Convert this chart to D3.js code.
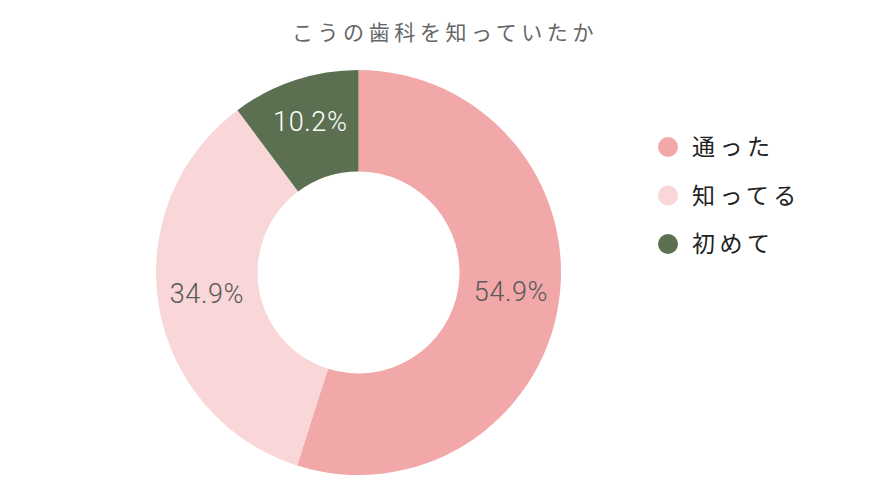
<!DOCTYPE html>
<html>
<head>
<meta charset="utf-8">
<script src="https://cdn.jsdelivr.net/npm/d3@7"></script>
<style>
  body { margin: 0; background: #fff; }
</style>
</head>
<body>
<div id="chart"></div>
<script>
var title = "こうの歯科を知っていたか";
var categories = ["通った", "知ってる", "初めて"];
var values = [54.9, 34.9, 10.2];
var colors = ["#f2a8a9", "#f9d6d8", "#5b7051"];
var labelColors = ["#595959", "#595959", "#ffffff"];

var w = 894, h = 502;
var cx = 358.5, cy = 272.5, outerR = 202.5, innerR = 101;

var svg = d3.select("#chart").append("svg")
  .attr("width", w)
  .attr("height", h);

// title
svg.append("text")
  .attr("x", 445)
  .attr("y", 40)
  .attr("text-anchor", "middle")
  .attr("font-family", "'Noto Sans CJK JP', sans-serif")
  .attr("font-size", "21px")
  .attr("letter-spacing", "4.6px")
  .attr("fill", "#666")
  .text(title);

var data = categories.map(function(c, i) { return {name: c, value: values[i]}; });

var pie = d3.pie().sort(null).value(function(d) { return d.value; });
var arc = d3.arc().innerRadius(innerR).outerRadius(outerR);
var labelArc = d3.arc().innerRadius(154).outerRadius(154);

var g = svg.append("g").attr("transform", "translate(" + cx + "," + cy + ")");

var arcs = pie(data);
g.selectAll("path")
  .data(arcs)
  .enter()
  .append("path")
  .attr("d", arc)
  .attr("fill", function(d, i) { return colors[i]; });

g.selectAll("text")
  .data(arcs)
  .enter()
  .append("text")
  .attr("transform", function(d) { return "translate(" + labelArc.centroid(d) + ")"; })
  .attr("text-anchor", "middle")
  .attr("dx", "0.3px")
  .attr("dy", "5px")
  .attr("font-family", "Roboto, sans-serif")
  .attr("font-weight", "300")
  .attr("font-size", "27px")
  .attr("letter-spacing", "0.6px")
  .attr("fill", function(d, i) { return labelColors[i]; })
  .text(function(d) { return d.data.value.toFixed(1) + "%"; });

// legend
var legend = svg.append("g").attr("transform", "translate(668,147)");
var item = legend.selectAll("g")
  .data(categories)
  .enter()
  .append("g")
  .attr("transform", function(d, i) { return "translate(0," + i * 48.5 + ")"; });
item.append("circle")
  .attr("r", 10)
  .attr("fill", function(d, i) { return colors[i]; });
item.append("text")
  .attr("x", 24)
  .attr("dy", "0.36em")
  .attr("font-family", "'Noto Sans CJK JP', sans-serif")
  .attr("font-size", "23px")
  .attr("letter-spacing", "4.5px")
  .attr("fill", "#222")
  .text(function(d) { return d; });
</script>
</body>
</html>
